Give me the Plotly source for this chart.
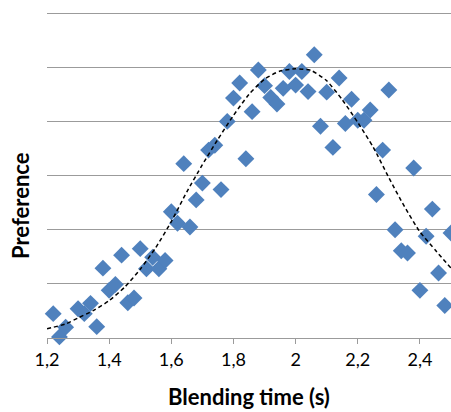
import plotly.graph_objects as go

# Observed data points (blending time in s, preference score)
blend_time = [1.22, 1.24, 1.26, 1.30, 1.32, 1.34, 1.36, 1.38, 1.40, 1.42,
              1.44, 1.46, 1.48, 1.50, 1.52, 1.54, 1.56, 1.58, 1.60, 1.62,
              1.64, 1.66, 1.68, 1.70, 1.72, 1.74, 1.76, 1.78, 1.80, 1.82,
              1.84, 1.86, 1.88, 1.90, 1.92, 1.94, 1.96, 1.98, 2.00, 2.02,
              2.04, 2.06, 2.08, 2.10, 2.12, 2.14, 2.16, 2.18, 2.20, 2.22,
              2.24, 2.26, 2.28, 2.30, 2.32, 2.34, 2.36, 2.38, 2.40, 2.42,
              2.44, 2.46, 2.48, 2.50]
preference = [0.45, 0.02, 0.20, 0.54, 0.45, 0.64, 0.21, 1.29, 0.88, 0.99,
              1.53, 0.65, 0.74, 1.65, 1.28, 1.49, 1.28, 1.43, 2.33, 2.12,
              3.22, 2.05, 2.55, 2.86, 3.47, 3.56, 2.74, 4.00, 4.43, 4.71,
              3.31, 4.18, 4.95, 4.66, 4.44, 4.32, 4.61, 4.92, 4.67, 4.92,
              4.55, 5.23, 3.91, 4.54, 3.52, 4.80, 3.96, 4.41, 4.02, 4.02,
              4.21, 2.65, 3.47, 4.58, 2.00, 1.61, 1.57, 3.14, 0.88, 1.88,
              2.38, 1.20, 0.60, 1.94]

# Trend curve (dashed)
trend_x = [1.20, 1.26, 1.30, 1.35, 1.40, 1.45, 1.50, 1.55, 1.60, 1.65,
           1.70, 1.75, 1.80, 1.85, 1.90, 1.95, 2.00, 2.05, 2.10, 2.15,
           2.20, 2.25, 2.30, 2.35, 2.40, 2.45, 2.50]
trend_y = [0.17, 0.26, 0.37, 0.51, 0.69, 0.94, 1.27, 1.67, 2.15, 2.70,
           3.20, 3.67, 4.11, 4.50, 4.78, 4.93, 4.97, 4.94, 4.75, 4.40,
           3.98, 3.52, 2.96, 2.43, 1.96, 1.62, 1.29]

tick_vals = [1.2, 1.4, 1.6, 1.8, 2.0, 2.2, 2.4]
tick_labels = ["1,2", "1,4", "1,6", "1,8", "2", "2,2", "2,4"]

W, H = 451, 412
ML, MR, MT, MB = 47, 0, 12, 74

fig = go.Figure()
fig.add_trace(go.Scatter(
    x=blend_time, y=preference, mode="markers",
    marker=dict(symbol="diamond", size=13, color="#4F81BD", line=dict(width=0)),
    cliponaxis=False, showlegend=False,
))
fig.add_trace(go.Scatter(
    x=trend_x, y=trend_y, mode="lines",
    line=dict(color="black", width=1.5, dash="4px,3px", shape="spline", smoothing=0.6),
    cliponaxis=True, showlegend=False,
))

fig.update_layout(
    width=W, height=H,
    margin=dict(l=ML, r=MR, t=MT, b=MB, pad=0),
    paper_bgcolor="white", plot_bgcolor="white",
    font=dict(family="Lato, sans-serif", color="black"),
    xaxis=dict(
        range=[1.2, 2.5], tickvals=tick_vals, ticktext=tick_labels,
        showgrid=False, zeroline=False,
        showline=True, linecolor="#9B9B9B", linewidth=1.3,
        ticks="outside", ticklen=5, tickcolor="#9B9B9B", tickwidth=1.3,
        tickfont=dict(size=18, family="Lato, sans-serif", color="black"),
        automargin=False,
    ),
    yaxis=dict(
        range=[0, 6.02], tickvals=[1, 2, 3, 4, 5, 6], showticklabels=False,
        showgrid=True, gridcolor="#9B9B9B", gridwidth=1.3,
        zeroline=False, showline=False, ticks="", automargin=False,
    ),
    annotations=[
        dict(
            text="<b>Preference</b>", textangle=-90,
            xref="paper", yref="paper",
            x=-27 / (W - ML - MR), y=(H - MB - 206) / (H - MT - MB),
            xanchor="center", yanchor="middle", showarrow=False,
            font=dict(size=22, family="Lato, sans-serif", color="black"),
        ),
        dict(
            text="<b>Blending time (s)</b>",
            xref="paper", yref="paper",
            x=0.5, y=-(396 - (H - MB)) / (H - MT - MB),
            xanchor="center", yanchor="middle", showarrow=False,
            font=dict(size=22, family="Lato, sans-serif", color="black"),
        ),
    ],
)

fig.write_html("out.html", config={"displayModeBar": False},
               post_script="document.body.style.margin='0';document.body.style.overflow='hidden';")
